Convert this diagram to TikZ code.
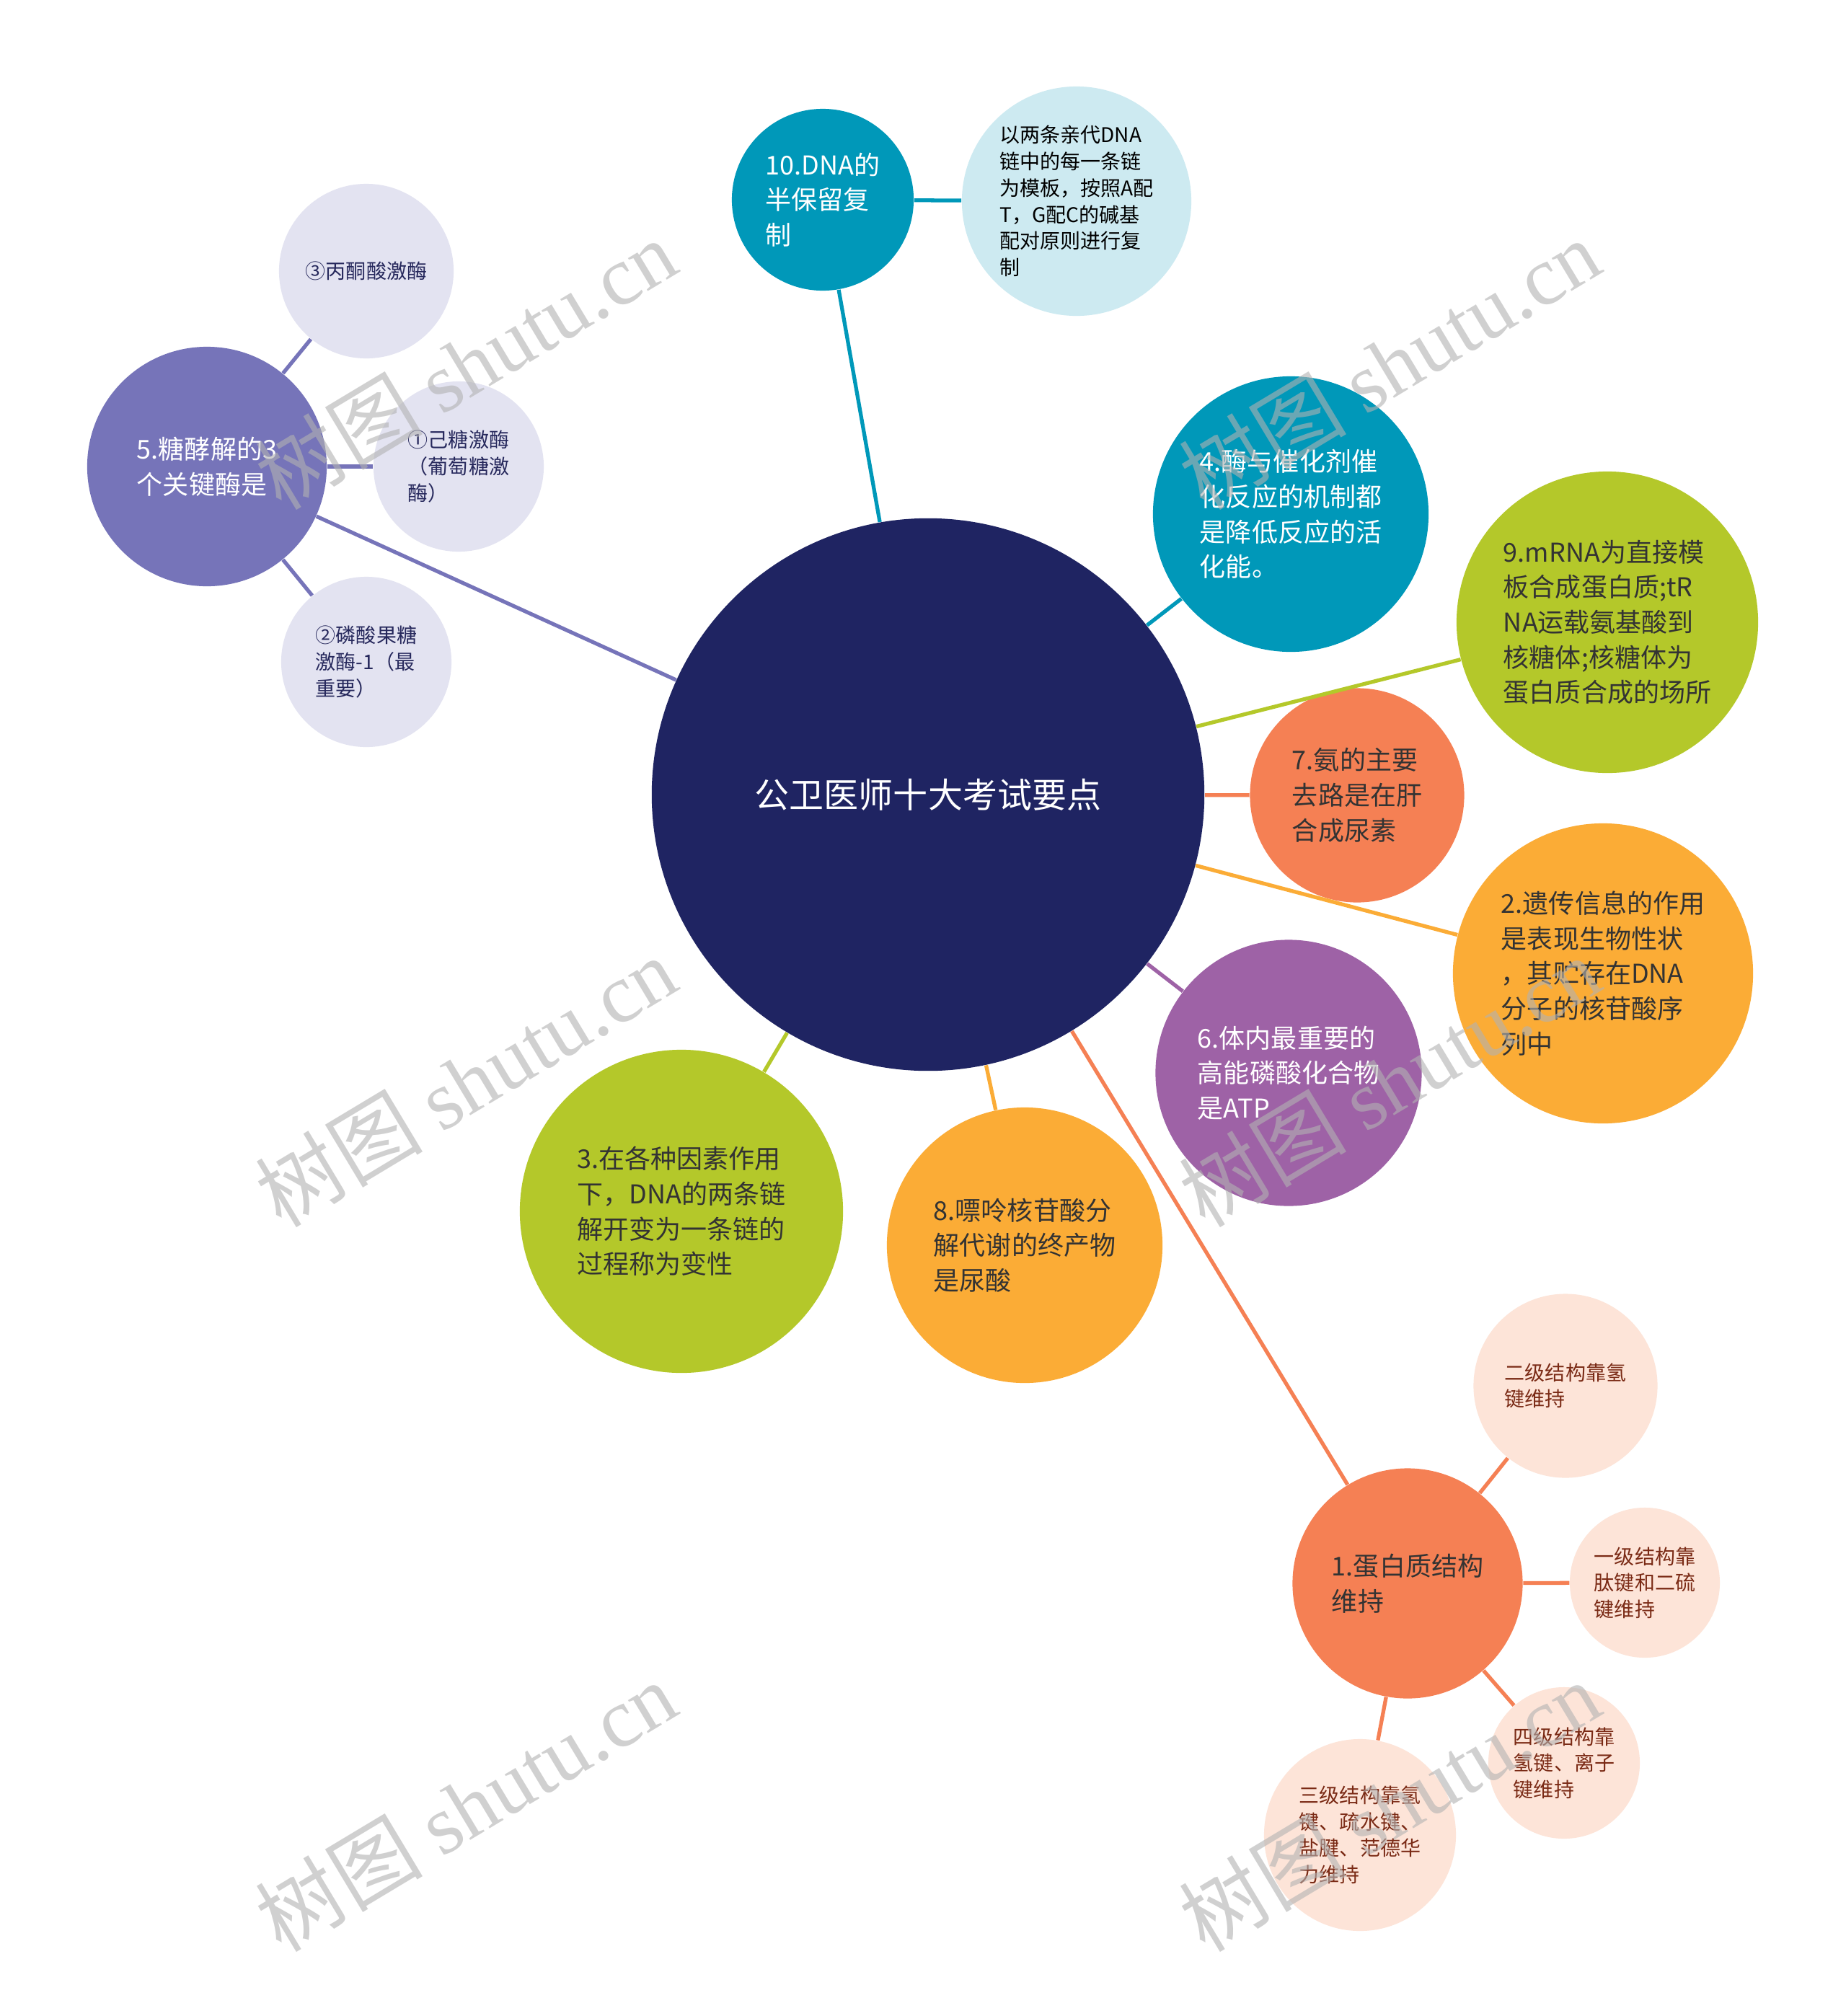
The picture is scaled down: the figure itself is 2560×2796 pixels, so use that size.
\documentclass[tikz,border=0pt]{standalone}
\usepackage{fontspec}
\setmainfont{Noto Sans CJK SC}
\newfontfamily\wmfont{Liberation Serif}
\usetikzlibrary{positioning}

\definecolor{navy}{HTML}{1F2462}
\definecolor{cteal}{HTML}{0098B9}
\definecolor{cpaleblue}{HTML}{CDEAF1}
\definecolor{clav}{HTML}{7674B9}
\definecolor{cpalelav}{HTML}{E3E3F1}
\definecolor{cgreen}{HTML}{B4C82A}
\definecolor{csalmon}{HTML}{F58054}
\definecolor{corange}{HTML}{FBAC36}
\definecolor{cpurple}{HTML}{9E62A6}
\definecolor{cpeach}{HTML}{FDE4D8}
\definecolor{darktext}{HTML}{333333}
\definecolor{navytext}{HTML}{26285C}
\definecolor{redtext}{HTML}{7A2A15}

\tikzset{
 bub/.style={circle, inner sep=0pt, align=left},
 big/.style={font=\fontsize{10.24}{13.86}\selectfont},
 small/.style={font=\fontsize{7.97}{10.4}\selectfont},
 link/.style={line width=1.5pt},
 wm/.style={text=black!30, text opacity=0.6, font=\fontsize{33}{38}\selectfont}
}

\begin{document}
\begin{tikzpicture}[x=0.01cm, y=-0.01cm]
 \path[use as bounding box, fill=white] (0,0) rectangle (2560,2796);

 % centre
 \node[bub, fill=navy, minimum size=7.66cm, text=white, font=\fontsize{13.66}{16}\selectfont] (root) at (1287,1102) {公卫医师十大考试要点};

 % main topics
 \node[bub, big, fill=cteal, minimum size=2.52cm, text=white] (dna) at (1141,277) {10.DNA的\\半保留复\\制};
 \node[bub, big, fill=clav, minimum size=3.32cm, text=white] (gly) at (287,647) {5.糖酵解的3\\个关键酶是};
 \node[bub, big, fill=cteal, minimum size=3.82cm, text=white] (enz) at (1790,713) {4.酶与催化剂催\\化反应的机制都\\是降低反应的活\\化能。};
 \node[bub, big, fill=cgreen, minimum size=4.18cm, text=darktext] (mrna) at (2229,863) {9.mRNA为直接模\\板合成蛋白质;tR\\NA运载氨基酸到\\核糖体;核糖体为\\蛋白质合成的场所};
 \node[bub, big, fill=csalmon, minimum size=2.97cm, text=darktext] (amm) at (1882,1103) {7.氨的主要\\去路是在肝\\合成尿素};
 \node[bub, big, fill=corange, minimum size=4.16cm, text=darktext] (gen) at (2223,1350) {2.遗传信息的作用\\是表现生物性状\\，其贮存在DNA\\分子的核苷酸序\\列中};
 \node[bub, big, fill=cpurple, minimum size=3.69cm, text=white] (atp) at (1787,1488) {6.体内最重要的\\高能磷酸化合物\\是ATP};
 \node[bub, big, fill=corange, minimum size=3.82cm, text=darktext] (pur) at (1421,1727) {8.嘌呤核苷酸分\\解代谢的终产物\\是尿酸};
 \node[bub, big, fill=cgreen, minimum size=4.48cm, text=darktext] (den) at (945,1680) {3.在各种因素作用\\下，DNA的两条链\\解开变为一条链的\\过程称为变性};
 \node[bub, big, fill=csalmon, minimum size=3.19cm, text=darktext] (pro) at (1952,2196) {1.蛋白质结构\\维持};

 % details
 \node[bub, fill=cpaleblue, minimum size=3.18cm, text=black, font=\fontsize{7.97}{10.44}\selectfont] (dnad) at (1493,279) {以两条亲代DNA\\链中的每一条链\\为模板，按照A配\\T，G配C的碱基\\配对原则进行复\\制};
 \node[bub, small, fill=cpalelav, minimum size=2.42cm, text=navytext] (gly3) at (508,376) {③丙酮酸激酶};
 \node[bub, small, fill=cpalelav, minimum size=2.36cm, text=navytext] (gly1) at (636,647) {①己糖激酶\\（葡萄糖激\\酶）};
 \node[bub, small, fill=cpalelav, minimum size=2.36cm, text=navytext] (gly2) at (508,918) {②磷酸果糖\\激酶-1（最\\重要）};
 \node[bub, small, fill=cpeach, minimum size=2.55cm, text=redtext] (pro2) at (2171,1922) {二级结构靠氢\\键维持};
 \node[bub, small, fill=cpeach, minimum size=2.08cm, text=redtext] (pro1) at (2281,2195) {一级结构靠\\肽键和二硫\\键维持};
 \node[bub, small, fill=cpeach, minimum size=2.10cm, text=redtext] (pro4) at (2169,2445) {四级结构靠\\氢键、离子\\键维持};
 \node[bub, small, fill=cpeach, minimum size=2.66cm, text=redtext] (pro3) at (1886,2545) {三级结构靠氢\\键、疏水键、\\盐腱、范德华\\力维持};

 % connectors
 \foreach \n/\c in {dna/cteal, gly/clav, enz/cteal, mrna/cgreen, amm/csalmon, gen/corange, atp/cpurple, pur/corange, den/cgreen, pro/csalmon} {
  \draw[link, \c] (root) -- (\n);
 };
 \draw[link, cteal] (dna) -- (dnad);
 \foreach \n in {gly1,gly2,gly3} {
  \draw[link, clav] (gly) -- (\n);
 };
 \foreach \n in {pro1,pro2,pro3,pro4} {
  \draw[link, csalmon] (pro) -- (\n);
 };

 % watermark
 \foreach \x in {646,1927} {
  \foreach \y in {505,1500,2505} {
   \node[wm, rotate=31] (wm\x\y) at (\x,\y) {树图 {\wmfont shutu.cn}};
  }
 }
\end{tikzpicture}
\end{document}
